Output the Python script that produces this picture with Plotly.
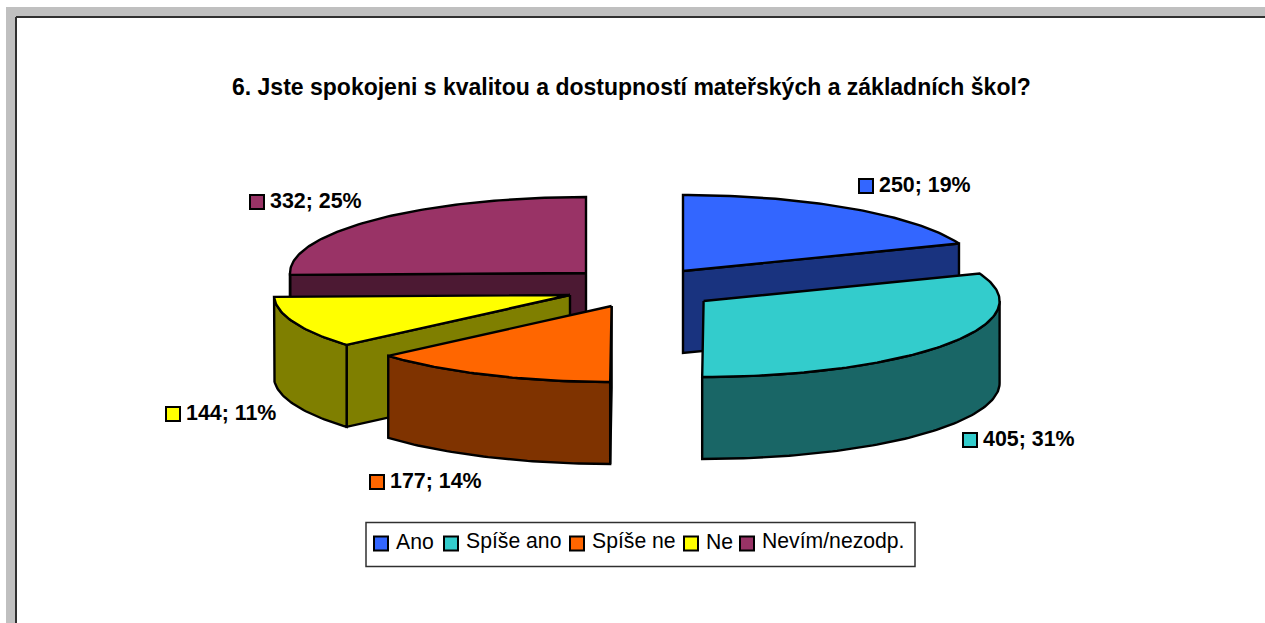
import math
import plotly.graph_objects as go

categories = ["Ano", "Spíše ano", "Spíše ne", "Ne", "Nevím/nezodp."]
values = [250, 405, 177, 144, 332]
top_colors = ["#3366FF", "#33CCCC", "#FF6600", "#FFFF00", "#993366"]
side_colors = ["#19337F", "#196666", "#7F3300", "#7F7F00", "#4C1933"]
title_text = "6. Jste spokojeni s kvalitou a dostupností mateřských a základních škol?"

# layout constants (pixels of the 1265x623 canvas)
RX, RY, DEPTH = 296, 76, 82
apex = [(683, 271), (703.6, 301), (611.6, 306), (570, 295), (586, 273)]
draw_order = [4, 0, 3, 2, 1]
label_pos = [(866, 186), (970, 440), (377, 482), (173, 414), (257, 202)]
legend_pos = [(381, 394), (451, 464), (577, 590), (691, 704), (747, 760)]
FONT = "Liberation Sans"

total = sum(values)
bounds = [0.0]
for v in values:
    bounds.append(bounds[-1] + v / total * 360)


def pt(i, deg, dy=0):
    a = math.radians(deg)
    return apex[i][0] + RX * math.sin(a), apex[i][1] - RY * math.cos(a) + dy


def arc(i, d0, d1, dy=0):
    n = max(2, int(abs(d1 - d0)) + 1)
    return [pt(i, d0 + (d1 - d0) * k / (n - 1), dy) for k in range(n)]


def poly(points, color, name):
    xs = [p[0] for p in points] + [points[0][0]]
    ys = [p[1] for p in points] + [points[0][1]]
    return go.Scatter(x=xs, y=ys, mode="lines", fill="toself", fillcolor=color,
                      line=dict(color="black", width=2.4), name=name,
                      showlegend=False, hoverinfo="name")


fig = go.Figure()
for i in draw_order:
    d0, d1 = bounds[i], bounds[i + 1]
    name = categories[i]
    ax, ay = apex[i]
    for cut in ([d1] if d1 < 180 else []) + ([d0] if d0 > 180 else []):
        e = pt(i, cut)
        fig.add_trace(poly([(ax, ay), e, (e[0], e[1] + DEPTH), (ax, ay + DEPTH)],
                           side_colors[i], name))
    w0, w1 = max(d0, 90), min(d1, 270)
    if w1 > w0:
        fig.add_trace(poly(arc(i, w0, w1) + arc(i, w1, w0, DEPTH), side_colors[i], name))
    fig.add_trace(poly([(ax, ay)] + arc(i, d0, d1), top_colors[i], name))

annotations = []
# data labels
fig.add_trace(go.Scatter(
    x=[p[0] for p in label_pos], y=[p[1] for p in label_pos], mode="markers",
    marker=dict(symbol="square", size=14, color=top_colors, line=dict(color="black", width=2)),
    showlegend=False, hoverinfo="skip"))
for i, (x, y) in enumerate(label_pos):
    annotations.append(dict(x=x + 11, y=y - 1, xref="x", yref="y", xanchor="left", yanchor="middle",
                            showarrow=False,
                            text=f"<b>{values[i]}; {round(values[i] / total * 100)}%</b>",
                            font=dict(family=FONT, size=21.4, color="black")))
# legend
fig.add_trace(go.Scatter(
    x=[p[0] for p in legend_pos], y=[543.5] * 5, mode="markers",
    marker=dict(symbol="square", size=14, color=top_colors, line=dict(color="black", width=2)),
    showlegend=False, hoverinfo="skip"))
for i, (mx, tx) in enumerate(legend_pos):
    annotations.append(dict(x=tx, y=541, xref="x", yref="y", xanchor="left", yanchor="middle",
                            showarrow=False, text=categories[i],
                            font=dict(family=FONT, size=21.2, color="black")))
# title
annotations.append(dict(x=631.5, y=87, xref="x", yref="y", xanchor="center", yanchor="middle",
                        showarrow=False, text=f"<b>{title_text}</b>",
                        font=dict(family=FONT, size=23, color="black")))

shapes = [
    dict(type="rect", x0=6, x1=1265, y0=7, y1=623, fillcolor="#C0C0C0", line_width=0, layer="below"),
    dict(type="rect", x0=16, x1=1265, y0=17, y1=623, fillcolor="white", line_width=0, layer="below"),
    dict(type="line", x0=16, x1=1265, y0=17, y1=17, line=dict(color="#303030", width=2), layer="below"),
    dict(type="line", x0=16, x1=16, y0=17, y1=623, line=dict(color="#303030", width=2), layer="below"),
    dict(type="rect", x0=366, x1=915, y0=522.5, y1=566.5, fillcolor="white",
         line=dict(color="#303030", width=1.5), layer="below"),
]

fig.update_layout(
    width=1265, height=623, margin=dict(l=0, r=0, t=0, b=0),
    paper_bgcolor="white", plot_bgcolor="white", showlegend=False,
    xaxis=dict(range=[0, 1265], visible=False, fixedrange=True),
    yaxis=dict(range=[623, 0], visible=False, fixedrange=True),
    shapes=shapes, annotations=annotations,
)
fig.write_html("out.html", config={"displayModeBar": False},
               post_script="document.body.style.margin='0';document.documentElement.style.overflow='hidden';")
